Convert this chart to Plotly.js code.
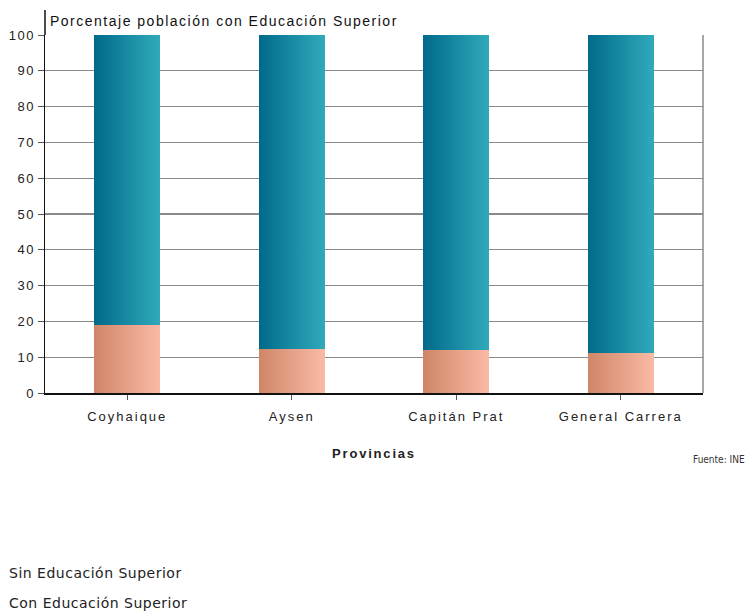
<!DOCTYPE html>
<html><head><meta charset="utf-8">
<script src="https://cdn.plot.ly/plotly-3.0.1.min.js"></script>
<style>body{margin:0;background:#fff}#c{width:747px;height:612px}</style>
</head><body><div id="c"></div>
<script>
const provincias = ["Coyhaique", "Aysen", "Capitán Prat", "General Carrera"];
const conEdu = [19.0, 12.3, 11.9, 11.1];
const sinEdu = [81.0, 87.7, 88.1, 88.9];
const serieNames = ["Sin Educación Superior", "Con Educación Superior"];
const yTicks = [0,10,20,30,40,50,60,70,80,90,100];

const traces = [
  {type:'bar', x:provincias, y:conEdu, name:serieNames[1], marker:{color:'#e8a085'}, width:0.4, showlegend:false, hoverinfo:'none'},
  {type:'bar', x:provincias, y:sinEdu, name:serieNames[0], marker:{color:'#1a8aa0'}, width:0.4, showlegend:false, hoverinfo:'none'}
];
const layout = {
  width:747, height:612, barmode:'stack', bargap:0.6,
  margin:{l:45, r:44, t:35, b:219},
  paper_bgcolor:'#fff', plot_bgcolor:'#fff',
  font:{family:'Liberation Sans, Arial, sans-serif', size:12, color:'#222'},
  showlegend:false,
  xaxis:{title:{text:'<b>Provincias</b>', font:{size:13, color:'#222'}, standoff:26},
    showline:true, linecolor:'#111', linewidth:2, ticks:'outside', ticklen:5, tickcolor:'#555',
    ticklabelstandoff:5,
    tickfont:{size:13, color:'#222'}, showgrid:false, zeroline:false},
  yaxis:{range:[0,100], tickvals:yTicks, ticks:'outside', ticklen:6, tickcolor:'#555',
    showline:true, linecolor:'#111', linewidth:1.5, gridcolor:'#8a8a8a', gridwidth:1.3,
    tickfont:{size:13, color:'#222'}, zeroline:false},
  shapes:[
    {type:'line', xref:'paper', yref:'paper', x0:0, x1:0, y0:1, y1:1.07, line:{color:'#111', width:1.5}},
    {type:'line', xref:'paper', yref:'paper', x0:1, x1:1, y0:0, y1:1, line:{color:'#8a8a8a', width:1.5}}
  ],
  annotations:[
    {text:'Porcentaje población con Educación Superior', xref:'paper', yref:'paper', x:0.005, y:1.01, xanchor:'left', yanchor:'bottom', showarrow:false, font:{size:14, color:'#111'}},
    {text:'Fuente: INE', xref:'paper', yref:'paper', x:1.067, y:-0.185, xanchor:'right', yanchor:'middle', showarrow:false, font:{family:'DejaVu Sans Condensed, DejaVu Sans', size:10, color:'#333'}},
    {text:serieNames[0], xref:'paper', yref:'paper', x:-0.057, y:-0.502, xanchor:'left', yanchor:'middle', showarrow:false, font:{family:'DejaVu Sans', size:14, color:'#222'}},
    {text:serieNames[1], xref:'paper', yref:'paper', x:-0.057, y:-0.586, xanchor:'left', yanchor:'middle', showarrow:false, font:{family:'DejaVu Sans', size:14, color:'#222'}}
  ]
};
function spaceLeft(t, sp){
  const bb = t.getBBox();
  t.style.letterSpacing = sp;
  t.setAttribute('text-anchor','start');
  t.setAttribute('x', bb.x);
}
Plotly.newPlot('c', traces, layout, {staticPlot:true}).then(function(gd){
  const svg = gd.querySelector('svg.main-svg');
  const ns = 'http://www.w3.org/2000/svg';
  let defs = svg.querySelector('defs');
  function grad(id, c1, c2){
    const g = document.createElementNS(ns,'linearGradient');
    g.setAttribute('id', id); g.setAttribute('x1','0'); g.setAttribute('x2','1'); g.setAttribute('y1','0'); g.setAttribute('y2','0');
    [[0,c1],[1,c2]].forEach(function(s){const st=document.createElementNS(ns,'stop'); st.setAttribute('offset', s[0]); st.setAttribute('stop-color', s[1]); g.appendChild(st);});
    defs.appendChild(g);
  }
  grad('gSalmon', '#cf8667', '#fbbaa6');
  grad('gTeal', '#006a8a', '#30aabb');
  const tr = gd.querySelectorAll('.barlayer .trace');
  const ids = ['gSalmon','gTeal'];
  tr.forEach(function(t,i){ t.querySelectorAll('path').forEach(function(p){ p.style.fill = 'url(#'+ids[i]+')'; }); });
  gd.querySelectorAll('.xtick text').forEach(function(t){ t.style.letterSpacing='2px'; });
  gd.querySelectorAll('.ytick text').forEach(function(t){ t.style.letterSpacing='1.5px'; });
  gd.querySelectorAll('.g-xtitle text').forEach(function(t){ t.style.letterSpacing='1.8px'; });
  const ann = gd.querySelectorAll('.annotation-text');
  if (ann[0]) spaceLeft(ann[0], '1.5px');
  if (ann[2]) spaceLeft(ann[2], '0.5px');
  if (ann[3]) spaceLeft(ann[3], '0.5px');
});
</script></body></html>
